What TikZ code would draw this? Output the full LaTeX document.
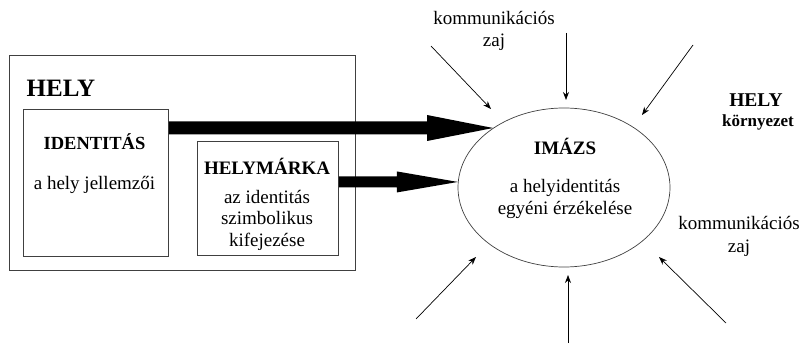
\documentclass[tikz,border=0pt]{standalone}
\usepackage{fontspec}
\setmainfont{Liberation Serif}
\usetikzlibrary{arrows.meta,shapes.geometric,calc}
\begin{document}
\begin{tikzpicture}[x=1pt,y=-1pt,
  box/.style={draw=black!75,line width=0.9pt,inner sep=0pt,anchor=north west},
  txt/.style={inner sep=0pt,font=\fontsize{19}{21.5}\selectfont,align=center},
  btxt/.style={inner sep=0pt,font=\fontsize{19}{21.5}\selectfont\bfseries,align=center},
  noise/.style={line width=0.7pt,-{Stealth[length=8pt,width=6pt]}}
]
\useasboundingbox (0,0) rectangle (801,345);
% boxes
\node[box,minimum width=346pt,minimum height=215pt] (hely) at (9,55) {};
\node[box,minimum width=145pt,minimum height=147pt] (id) at (23,109) {};
\node[box,minimum width=141pt,minimum height=114pt] (mk) at (197,141) {};
\node[draw=black!75,line width=0.7pt,ellipse,inner sep=0pt,minimum width=212pt,minimum height=159pt] (im) at (564,187.5) {};
% texts
\node[inner sep=0pt,font=\fontsize{25}{28}\selectfont\bfseries] (helyt) at (61,88) {HELY};
\node[btxt,font=\fontsize{18.5}{21}\selectfont\bfseries] (idt) at (94.5,142) {IDENTITÁS};
\node[txt] (idd) at (94.5,185) {a hely jellemzői};
\node[btxt] (mkt) at (267,166) {HELYMÁRKA};
\node[txt] (mkd) at (267,220) {az identitás\\szimbolikus\\kifejezése};
\node[btxt] (imt) at (565,146) {IMÁZS};
\node[txt] (imd) at (565,199) {a helyidentitás\\egyéni érzékelése};
\node[txt,font=\fontsize{19}{22}\selectfont] (k1) at (494,31) {kommunikációs\\zaj};
\node[txt,font=\fontsize{19}{23}\selectfont] (k2) at (739,236.5) {kommunikációs\\zaj};
\node[btxt,font=\fontsize{19.5}{22}\selectfont\bfseries] (h2) at (756,100) {HELY};
\node[btxt,font=\fontsize{17}{20}\selectfont\bfseries] (kor) at (758,122) {környezet};
% thick arrows
\coordinate (t1) at (im.140.5);
\coordinate (s1) at (id.east |- t1);
\fill ($(s1)+(0,-6.5)$) -- ($(t1)+(-66,-6.5)$) -- ($(t1)+(-66,-13)$) -- (t1)
  -- ($(t1)+(-66,13)$) -- ($(t1)+(-66,6.5)$) -- ($(s1)+(0,6.5)$) -- cycle;
\coordinate (t2) at (im.177);
\coordinate (s2) at (mk.east |- t2);
\fill ($(s2)+(0,-5.5)$) -- ($(t2)+(-61,-5.5)$) -- ($(t2)+(-61,-10.5)$) -- (t2)
  -- ($(t2)+(-61,10.5)$) -- ($(t2)+(-61,5.5)$) -- ($(s2)+(0,5.5)$) -- cycle;
% noise arrows
\coordinate (a1) at (431,46);  \coordinate (b1) at (491,109);
\coordinate (a2) at (566,33);  \coordinate (b2) at (566,100);
\coordinate (a3) at (693,45);  \coordinate (b3) at (642,115);
\coordinate (a4) at (416,319); \coordinate (b4) at (476,257);
\coordinate (a5) at (568,343); \coordinate (b5) at (568,275);
\coordinate (a6) at (726,323); \coordinate (b6) at (659,257);
\foreach \i in {1,...,6} \draw[noise] (a\i) -- (b\i);
\end{tikzpicture}
\end{document}
